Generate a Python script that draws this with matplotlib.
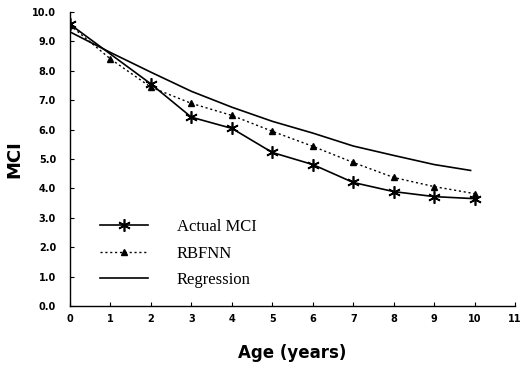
import matplotlib
matplotlib.use("Agg")
import matplotlib.pyplot as plt

# MCI against age: measured values, RBFNN prediction and regression curve
age_actual = [0, 2, 3, 4, 5, 6, 7, 8, 9, 10]
mci_actual = [9.58, 7.55, 6.42, 6.04, 5.22, 4.81, 4.2, 3.89, 3.72, 3.65]

age_rbfnn = [0, 1, 2, 3, 4, 5, 6, 7, 8, 9, 10]
mci_rbfnn = [9.55, 8.4, 7.44, 6.89, 6.48, 5.94, 5.43, 4.88, 4.37, 4.06, 3.82]

age_reg = [0, 1, 2, 3, 4, 5, 6, 7, 8, 9, 9.9]
mci_reg = [9.32, 8.62, 7.95, 7.3, 6.76, 6.28, 5.88, 5.44, 5.12, 4.81, 4.61]

xticks = list(range(0, 12))
yticks = [i for i in range(0, 11)]
ytick_labels = ["%.1f" % v for v in yticks]

fig = plt.figure(figsize=(5.28, 3.69), dpi=100)
ax = fig.add_axes([0.1326, 0.1707, 0.843, 0.797])

ax.plot(age_actual, mci_actual, color="black", lw=1.2,
        marker=(6, 2, 0), markersize=9, markeredgewidth=1.2, label="Actual MCI")
ax.plot(age_rbfnn, mci_rbfnn, color="black", lw=1.0, linestyle=(0, (1.5, 2)),
        marker="^", markersize=5, label="RBFNN")
ax.plot(age_reg, mci_reg, color="black", lw=1.2, label="Regression")

ax.set_xlim(0, 11)
ax.set_ylim(0, 10)
ax.set_xticks(xticks)
ax.set_yticks(yticks)
ax.set_yticklabels(ytick_labels)

for s in ["top", "right"]:
    ax.spines[s].set_visible(False)
for s in ["left", "bottom"]:
    ax.spines[s].set_linewidth(1.0)

ax.tick_params(axis="both", direction="in", length=3, width=0.8, labelsize=7)
ax.tick_params(axis="x", pad=6)
ax.tick_params(axis="y", pad=10)
for lab in ax.get_xticklabels() + ax.get_yticklabels():
    lab.set_fontweight("bold")

ax.set_xlabel("Age (years)", fontsize=12, fontweight="bold", labelpad=14)
ax.set_ylabel("MCI", fontsize=13, fontweight="bold", labelpad=6)

ax.legend(loc="upper left", bbox_to_anchor=(0.067, 0.295), frameon=False,
          borderaxespad=0, borderpad=0, numpoints=1, handlelength=2.9,
          handletextpad=1.7, labelspacing=0.62,
          prop={"family": "Liberation Serif", "size": 12})

fig.savefig("out.png", dpi=100)
